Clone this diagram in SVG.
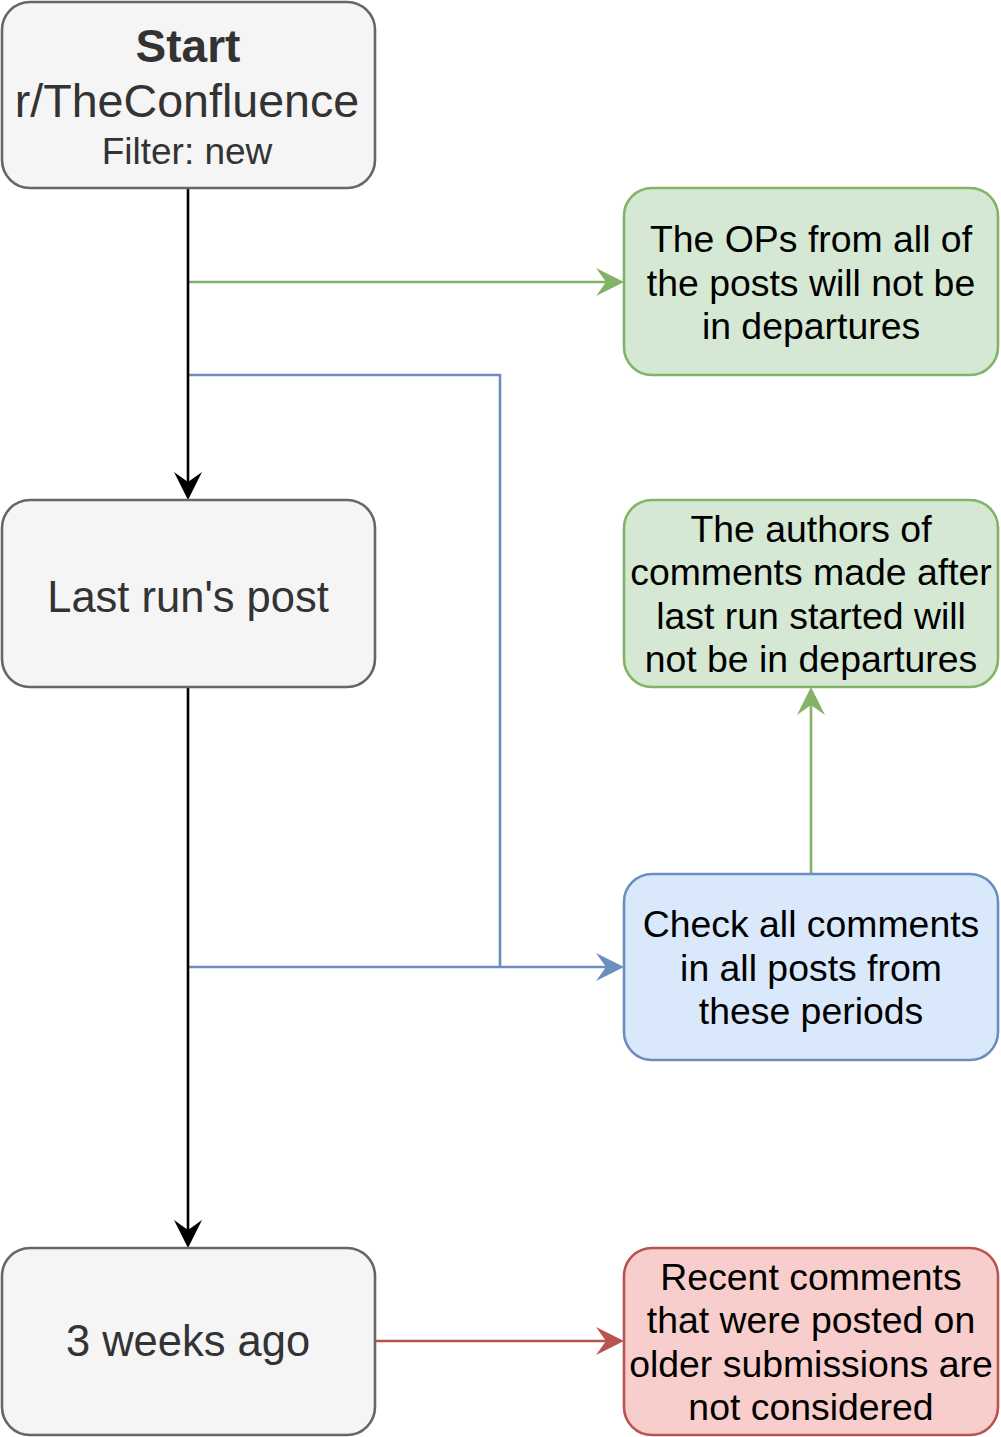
<svg xmlns="http://www.w3.org/2000/svg" width="1001" height="1437" viewBox="0 0 1001 1437">
<style>
.n{stroke-width:2.6}
.g{fill:#f5f5f5;stroke:#666666}
.gr{fill:#d5e8d4;stroke:#82b366}
.bl{fill:#dae8fc;stroke:#6c8ebf}
.rd{fill:#f8cecc;stroke:#b85450}
text{font-family:"Liberation Sans",Arial,sans-serif;text-anchor:middle}
.t1{font-size:43.5px;fill:#333333}
.t2{font-size:37.4px;fill:#000000}
.c{fill:none;stroke-width:2.6}
</style>
<defs>
<marker id="aK" viewBox="-28 -14 28 28" refX="-15" refY="0" markerWidth="28" markerHeight="28" markerUnits="userSpaceOnUse" orient="auto"><path d="M0,0 L-28,-14 L-18,0 L-28,14 Z" fill="#000000"/></marker>
<marker id="aG" viewBox="-28 -14 28 28" refX="-15" refY="0" markerWidth="28" markerHeight="28" markerUnits="userSpaceOnUse" orient="auto"><path d="M0,0 L-28,-14 L-18,0 L-28,14 Z" fill="#82b366"/></marker>
<marker id="aB" viewBox="-28 -14 28 28" refX="-15" refY="0" markerWidth="28" markerHeight="28" markerUnits="userSpaceOnUse" orient="auto"><path d="M0,0 L-28,-14 L-18,0 L-28,14 Z" fill="#6c8ebf"/></marker>
<marker id="aR" viewBox="-28 -14 28 28" refX="-15" refY="0" markerWidth="28" markerHeight="28" markerUnits="userSpaceOnUse" orient="auto"><path d="M0,0 L-28,-14 L-18,0 L-28,14 Z" fill="#b85450"/></marker>
</defs>
<g id="connectors">
<path class="c" d="M188,282 H609" stroke="#82b366" marker-end="url(#aG)"/>
<path class="c" d="M188,375 H500 V967" stroke="#6c8ebf"/>
<path class="c" d="M188,967 H609" stroke="#6c8ebf" marker-end="url(#aB)"/>
<path class="c" d="M811,874 V702" stroke="#82b366" marker-end="url(#aG)"/>
<path class="c" d="M375,1341 H609" stroke="#b85450" marker-end="url(#aR)"/>
<path class="c" d="M188,188 V485" stroke="#000000" stroke-width="3.2" marker-end="url(#aK)"/>
<path class="c" d="M188,687 V1233" stroke="#000000" stroke-width="3.2" marker-end="url(#aK)"/>
</g>
<g id="start">
<rect class="n g" x="2" y="2" width="373" height="186" rx="28"/>
<text x="188" y="62" style="font-size:46px;font-weight:bold;fill:#333333">Start</text>
<text x="187" y="117" style="font-size:46.6px;fill:#333333">r/TheConfluence</text>
<text x="187" y="164" style="font-size:37px;fill:#333333">Filter: new</text>
</g>
<g id="lastrun">
<rect class="n g" x="2" y="500" width="373" height="187" rx="28"/>
<text class="t1" x="188" y="612">Last run's post</text>
</g>
<g id="weeks">
<rect class="n g" x="2" y="1248" width="373" height="187" rx="28"/>
<text class="t1" x="188" y="1356">3 weeks ago</text>
</g>
<g id="ops">
<rect class="n gr" x="624" y="188" width="374" height="187" rx="28"/>
<text class="t2" x="811"><tspan x="811" y="252">The OPs from all of</tspan><tspan x="811" y="295.5">the posts will not be</tspan><tspan x="811" y="339">in departures</tspan></text>
</g>
<g id="authors">
<rect class="n gr" x="624" y="500" width="374" height="187" rx="28"/>
<text class="t2" x="811"><tspan x="811" y="541.5">The authors of</tspan><tspan x="811" y="585">comments made after</tspan><tspan x="811" y="628.5">last run started will</tspan><tspan x="811" y="672">not be in departures</tspan></text>
</g>
<g id="check">
<rect class="n bl" x="624" y="874" width="374" height="186" rx="28"/>
<text class="t2" x="811"><tspan x="811" y="937">Check all comments</tspan><tspan x="811" y="980.5">in all posts from</tspan><tspan x="811" y="1024">these periods</tspan></text>
</g>
<g id="recent">
<rect class="n rd" x="624" y="1248" width="374" height="187" rx="28"/>
<text class="t2" x="811"><tspan x="811" y="1289.5">Recent comments</tspan><tspan x="811" y="1333">that were posted on</tspan><tspan x="811" y="1376.5">older submissions are</tspan><tspan x="811" y="1420">not considered</tspan></text>
</g>
</svg>
